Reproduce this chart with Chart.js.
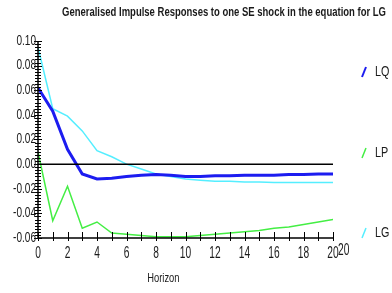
<!DOCTYPE html>
<html lang="en">
<head>
  <meta charset="UTF-8" />
  <title>Generalised Impulse Responses</title>
  <script src="https://cdn.jsdelivr.net/npm/chart.js"></script>
  <style>
    html, body { margin: 0; padding: 0; background: #fff; }
    #wrap { width: 392px; height: 293px; position: relative; }
  </style>
</head>
<body>
  <div id="wrap"><canvas id="irf"></canvas></div>
  <script>
    const horizon = [0, 1, 2, 3, 4, 5, 6, 7, 8, 9, 10, 11, 12, 13, 14, 15, 16, 17, 18, 19, 20];
    const lq = [0.062, 0.043, 0.012, -0.008, -0.012, -0.0115, -0.0100, -0.0090, -0.0085, -0.0090, -0.0100, -0.0100, -0.0095, -0.0095, -0.0090, -0.0090, -0.0090, -0.0085, -0.0085, -0.0080, -0.0080];
    const lp = [0.010, -0.046, -0.018, -0.052, -0.047, -0.056, -0.057, -0.058, -0.059, -0.059, -0.059, -0.058, -0.057, -0.056, -0.055, -0.054, -0.052, -0.051, -0.049, -0.047, -0.045];
    const lg = [0.095, 0.045, 0.039, 0.027, 0.011, 0.006, 0.000, -0.004, -0.008, -0.010, -0.012, -0.013, -0.014, -0.014, -0.0145, -0.0145, -0.015, -0.015, -0.015, -0.015, -0.015];
    const yTicks = [-0.06, -0.04, -0.02, 0.00, 0.02, 0.04, 0.06, 0.08, 0.10];
    const xTicks = [0, 2, 4, 6, 8, 10, 12, 14, 16, 18, 20];

    const FONT = "'Liberation Sans', Arial, sans-serif";

    // draw text squeezed to look like a narrow face
    function narrowText(ctx, text, cx, cy, sx) {
      ctx.save();
      ctx.translate(cx, cy);
      ctx.scale(sx, 1);
      ctx.fillText(text, 0, 0);
      ctx.restore();
    }

    // axes, crossing ticks, zero line, title and side legend
    const frame = {
      id: 'frame',
      afterDatasetsDraw(chart) {
        const { ctx, chartArea: a, scales: { x, y } } = chart;
        ctx.save();
        ctx.strokeStyle = '#000';
        ctx.lineWidth = 1.5;
        const y0 = y.getPixelForValue(0);
        ctx.beginPath();
        ctx.moveTo(a.left, y0); ctx.lineTo(a.right, y0);
        ctx.moveTo(a.left, a.top); ctx.lineTo(a.left, a.bottom); ctx.lineTo(a.right, a.bottom);
        ctx.stroke();
        ctx.lineWidth = 1;
        ctx.beginPath();
        for (let v = -0.06; v <= 0.1001; v += 0.0025) {
          const py = Math.round(y.getPixelForValue(v)) + 0.5;
          const major = Math.abs(v / 0.02 - Math.round(v / 0.02)) < 1e-6;
          const len = major ? 4 : 3;
          ctx.moveTo(a.left - len, py); ctx.lineTo(a.left + len, py);
        }
        for (let h = 0; h <= 20; h++) {
          const px = Math.round(x.getPixelForValue(h)) + 0.5;
          ctx.moveTo(px, a.bottom - 6); ctx.lineTo(px, a.bottom + 3);
        }
        ctx.stroke();

        ctx.fillStyle = '#1a1a1a';
        ctx.textBaseline = 'middle';

        // y tick labels
        ctx.font = '14px ' + FONT;
        ctx.textAlign = 'right';
        yTicks.forEach(v => narrowText(ctx, v.toFixed(2), a.left - 2, y.getPixelForValue(v), 0.72));
        // x tick labels plus the stray second "20"
        ctx.font = '17px ' + FONT;
        ctx.textAlign = 'center';
        xTicks.forEach(v => narrowText(ctx, String(v), x.getPixelForValue(v), a.bottom + 15, 0.6));
        ctx.textAlign = 'left';
        narrowText(ctx, '20', x.getPixelForValue(20) + 5, a.bottom + 12, 0.6);

        ctx.font = '13px ' + FONT;
        ctx.textAlign = 'center';
        narrowText(ctx, 'Horizon', x.getPixelForValue(8.5), 278, 0.72);

        ctx.font = 'bold 12px ' + FONT;
        const title = 'Generalised Impulse Responses to one SE shock in the equation for LG';
        const w = ctx.measureText(title).width;
        narrowText(ctx, title, 224, 13, 324 / w);

        // legend on the right
        const rows = [72, 153, 233];
        chart.data.datasets.forEach((ds, i) => {
          const ly = rows[i];
          ctx.strokeStyle = ds.borderColor;
          ctx.lineWidth = Math.min(ds.borderWidth, 2);
          ctx.beginPath();
          ctx.moveTo(362, ly + 5); ctx.lineTo(366, ly - 5);
          ctx.stroke();
          ctx.fillStyle = '#1a1a1a';
          ctx.textAlign = 'left';
          ctx.font = '15px ' + FONT;
          narrowText(ctx, ds.label, 375, ly, 0.72);
        });
        ctx.restore();
      }
    };

    new Chart(document.getElementById('irf'), {
      type: 'line',
      data: {
        labels: horizon,
        datasets: [
          { label: 'LQ', data: lq, borderColor: '#1c1cf0', borderWidth: 3 },
          { label: 'LP', data: lp, borderColor: '#44ee44', borderWidth: 1.5 },
          { label: 'LG', data: lg, borderColor: '#55eeff', borderWidth: 1.5 }
        ].map(d => Object.assign(d, { pointRadius: 0, tension: 0, fill: false }))
      },
      options: {
        responsive: true,
        maintainAspectRatio: false,
        animation: false,
        layout: { padding: { top: 41, right: 59, left: 0, bottom: 0 } },
        plugins: { legend: { display: false }, tooltip: { enabled: false } },
        scales: {
          x: {
            type: 'linear', min: 0, max: 20,
            afterBuildTicks: s => { s.ticks = xTicks.map(v => ({ value: v })); },
            afterFit: s => { s.height = 55; },
            grid: { display: false }, border: { display: false },
            ticks: { display: false }
          },
          y: {
            min: -0.06, max: 0.10,
            afterBuildTicks: s => { s.ticks = yTicks.map(v => ({ value: v })); },
            afterFit: s => { s.width = 38; },
            grid: { display: false }, border: { display: false },
            ticks: { display: false }
          }
        }
      },
      plugins: [frame]
    });
  </script>
</body>
</html>
